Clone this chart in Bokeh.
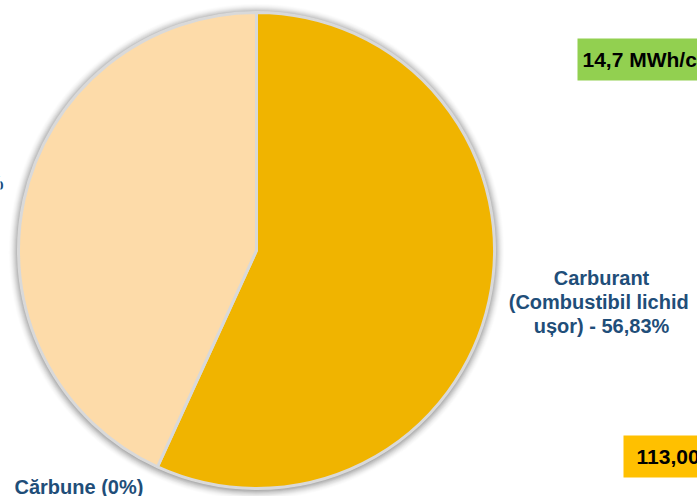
import numpy as np
from bokeh.plotting import figure
from bokeh.models import Range1d, ColumnDataSource
from bokeh.core.properties import value
from bokeh.embed import file_html
from bokeh.resources import INLINE

# Data
categories = ["Carburant (Combustibil lichid ușor)", "Gaz natural", "Cărbune"]
shares = [56.83, 43.17, 0.0]
colors = ["#F0B400", "#FDDBA9", "#A5A5A5"]
label_lines = [["Carburant", "(Combustibil  lichid", "ușor) - 56,83%"],
               ["Gaz natural - 43,17%"],
               ["Cărbune (0%)"]]
box_texts = ["14,7 MWh/cap", "113,00 MWh"]
box_colors = ["#92D050", "#FFC000"]

W, H = 697, 496
p = figure(width=W, height=H, output_backend="svg", toolbar_location=None,
           x_range=Range1d(0, W), y_range=Range1d(0, H), min_border=0)
p.axis.visible = False
p.grid.visible = False
p.outline_line_color = None
p.background_fill_color = "white"

cx, cy, R = 256, 246, 238

# soft shadow
for k in range(10, 0, -1):
    p.circle(x=[cx], y=[cy - 1], radius=R + k, fill_color="#000000",
             fill_alpha=0.014 * (11 - k) / 2, line_color=None)

# wedges clockwise from 12 o'clock
frac = np.array(shares) / sum(shares)
ends_cw = np.cumsum(frac) * 2 * np.pi
starts_cw = ends_cw - frac * 2 * np.pi
start_ang = np.pi / 2 - ends_cw
end_ang = np.pi / 2 - starts_cw
mask = frac > 0
src = ColumnDataSource(dict(start=start_ang[mask], end=end_ang[mask],
                            color=[c for c, m in zip(colors, mask) if m]))
p.wedge(x=cx, y=cy, radius=R, start_angle="start", end_angle="end",
        fill_color="color", line_color="#D9D9D9", line_width=3, source=src)

font = value("Liberation Sans")
lab_col = "#1F4E79"
fs = "20px"

# Carburant label
lx, ly = 601, H - 277
for i, t in enumerate(label_lines[0]):
    p.text(x=[lx], y=[ly - i * 24], text=[t], text_font=font, text_font_size=fs,
           text_font_style="bold", text_color=lab_col, text_align="center",
           text_baseline="middle")
# Gaz natural label (mostly off-canvas to the left)
p.text(x=[3], y=[H - 182], text=[label_lines[1][0]], text_font=font, text_font_size=fs,
       text_font_style="bold", text_color=lab_col, text_align="right", text_baseline="middle")
# Carbune label
p.text(x=[14], y=[H - 486], text=[label_lines[2][0]], text_font=font, text_font_size=fs,
       text_font_style="bold", text_color=lab_col, text_align="left", text_baseline="middle")

# value boxes
boxes = [(577, 38, 80, 582), (623, 435, 477, 636)]
for (bx, top, bot, tx), t, c in zip(boxes, box_texts, box_colors):
    p.quad(left=[bx], right=[bx + 200], top=[H - top], bottom=[H - bot],
           fill_color=c, line_color=None)
    p.text(x=[tx], y=[H - (top + bot) / 2], text=[t],
           text_font=font, text_font_size="21px", text_font_style="bold",
           text_color="black", text_align="left", text_baseline="middle")

open("out.html", "w").write(file_html(p, INLINE))
